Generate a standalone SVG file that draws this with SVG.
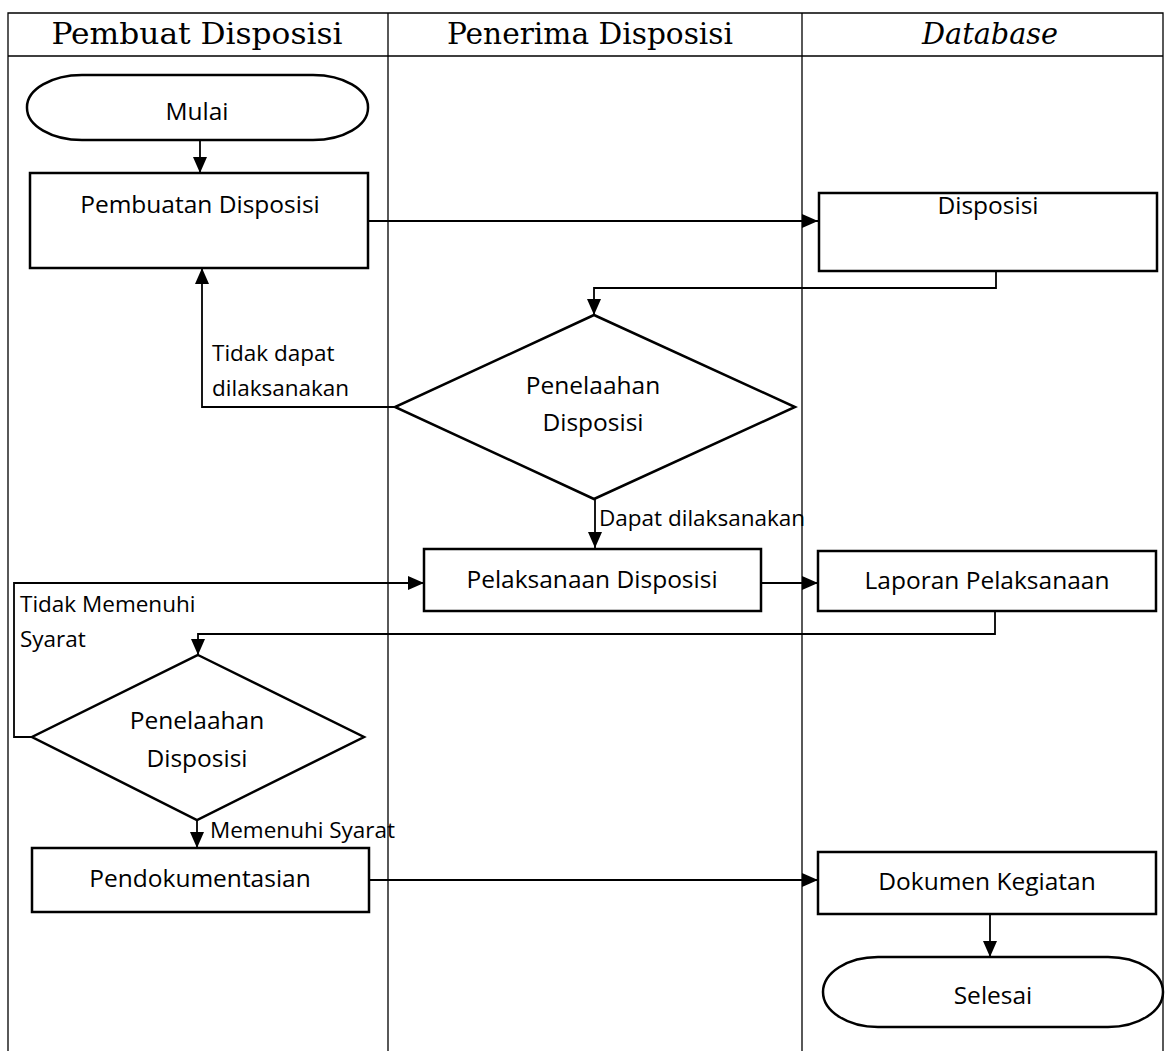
<svg xmlns="http://www.w3.org/2000/svg" width="1166" height="1051" viewBox="0 0 1166 1051">
<style>
.lane{stroke:#000;stroke-width:1.3;fill:none}
.box{fill:#fff;stroke:#000;stroke-width:2.5}
.con{fill:none;stroke:#000;stroke-width:1.8}
.hd{font-family:"DejaVu Serif","Liberation Serif",serif;font-size:29px;fill:#000;text-anchor:middle}
.t{font-family:"Open Sans","Liberation Sans",sans-serif;font-size:24.5px;font-weight:500;fill:#000;text-anchor:middle}
.lb{font-family:"Open Sans","Liberation Sans",sans-serif;font-size:22.5px;font-weight:500;fill:#000}
</style>
<defs>
<marker id="ah" viewBox="0 0 16 14" refX="16" refY="7" markerWidth="16" markerHeight="14" markerUnits="userSpaceOnUse" orient="auto">
<path d="M0,0 L16,7 L0,14 z" fill="#000"/>
</marker>
</defs>
<rect width="1166" height="1051" fill="#fff"/>
<g id="lanes">
<path class="lane" d="M8,1051 V13 H1163 V1051 M8,56 H1163 M388,13 V1051 M802,13 V1051"/>
<text class="hd" x="197" y="44" textLength="291" lengthAdjust="spacingAndGlyphs">Pembuat Disposisi</text>
<text class="hd" x="590" y="44" textLength="286" lengthAdjust="spacingAndGlyphs">Penerima Disposisi</text>
<text class="hd" x="990" y="44" font-style="italic" textLength="136" lengthAdjust="spacingAndGlyphs">Database</text>
</g>
<g id="connectors">
<path class="con" d="M200,140 V173" marker-end="url(#ah)"/>
<path class="con" d="M368,221 H818" marker-end="url(#ah)"/>
<path class="con" d="M996,271 V288 H594 V315" marker-end="url(#ah)"/>
<path class="con" d="M395,407 H202 V268" marker-end="url(#ah)"/>
<path class="con" d="M595,499 V548" marker-end="url(#ah)"/>
<path class="con" d="M761,583 H818" stroke-width="3" marker-end="url(#ah)"/>
<path class="con" d="M995,611 V634 H198 V655" marker-end="url(#ah)"/>
<path class="con" d="M32,737 H14 V583 H424" marker-end="url(#ah)"/>
<path class="con" d="M197,820 V848" marker-end="url(#ah)"/>
<path class="con" d="M369,880 H818" marker-end="url(#ah)"/>
<path class="con" d="M990,914 V957" marker-end="url(#ah)"/>
<text class="lb" x="212" y="361">Tidak dapat</text>
<text class="lb" x="212" y="396">dilaksanakan</text>
<text class="lb" x="599" y="526">Dapat dilaksanakan</text>
<text class="lb" x="20" y="612">Tidak Memenuhi</text>
<text class="lb" x="20" y="647">Syarat</text>
<text class="lb" x="210" y="838">Memenuhi Syarat</text>
</g>
<g id="mulai">
<rect class="box" x="27" y="75" width="341" height="65" rx="55" ry="32"/>
<text class="t" x="197" y="120">Mulai</text>
</g>
<g id="pembuatan">
<rect class="box" x="30" y="173" width="338" height="95"/>
<text class="t" x="200" y="213">Pembuatan Disposisi</text>
</g>
<g id="disposisi">
<rect class="box" x="819" y="193" width="338" height="78"/>
<text class="t" x="988" y="214">Disposisi</text>
</g>
<g id="penelaahan1">
<polygon class="box" points="594,315 795,407 594,499 395,407"/>
<text class="t" x="593" y="394">Penelaahan</text>
<text class="t" x="593" y="431">Disposisi</text>
</g>
<g id="pelaksanaan">
<rect class="box" x="424" y="549" width="337" height="62"/>
<text class="t" x="592" y="588">Pelaksanaan Disposisi</text>
</g>
<g id="laporan">
<rect class="box" x="818" y="551" width="338" height="60"/>
<text class="t" x="987" y="589">Laporan Pelaksanaan</text>
</g>
<g id="penelaahan2">
<polygon class="box" points="198,655 364,737 197,820 32,737"/>
<text class="t" x="197" y="729">Penelaahan</text>
<text class="t" x="197" y="767">Disposisi</text>
</g>
<g id="pendokumentasian">
<rect class="box" x="32" y="848" width="337" height="64"/>
<text class="t" x="200" y="887">Pendokumentasian</text>
</g>
<g id="dokumen">
<rect class="box" x="818" y="852" width="338" height="62"/>
<text class="t" x="987" y="890">Dokumen Kegiatan</text>
</g>
<g id="selesai">
<rect class="box" x="823" y="957" width="340" height="70" rx="55" ry="35"/>
<text class="t" x="993" y="1004">Selesai</text>
</g>
</svg>
